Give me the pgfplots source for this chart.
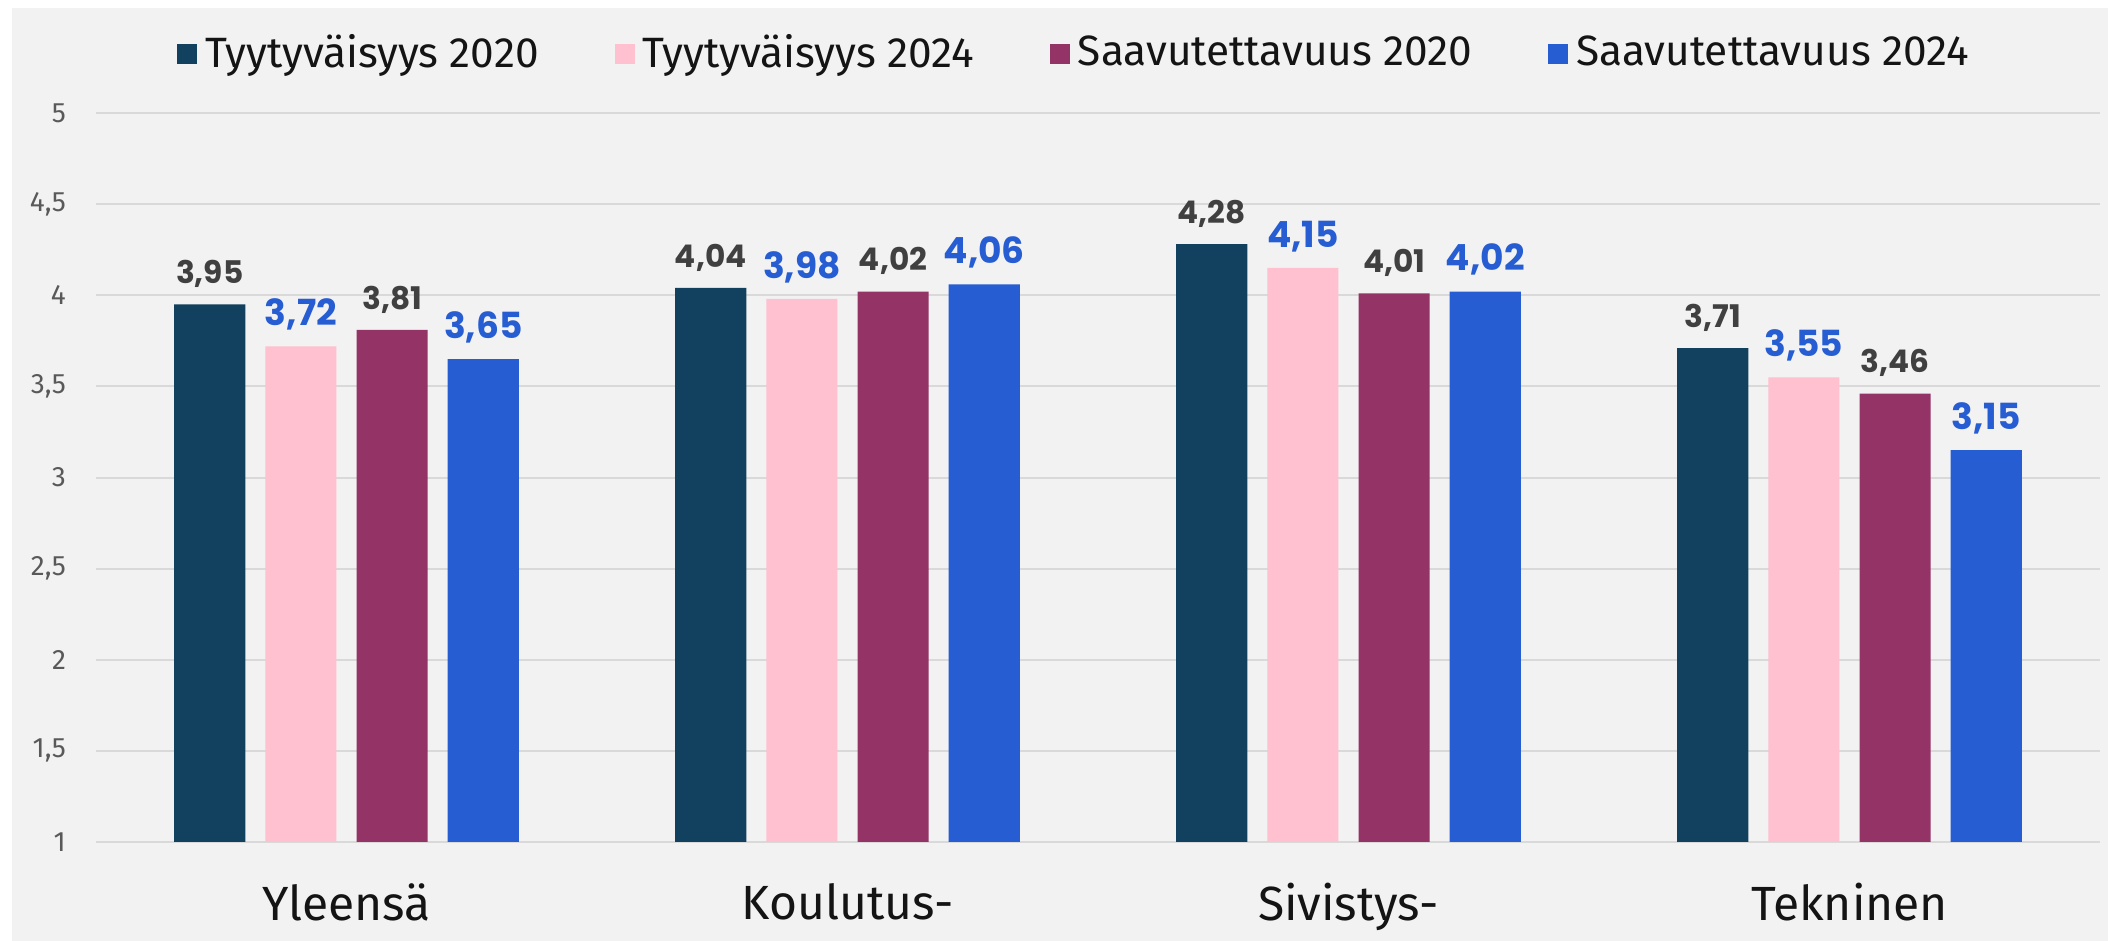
\documentclass[border=0pt]{standalone}
\usepackage{fontspec}
\setmainfont{Fira Sans}
\newfontfamily\labelfont{Poppins}
\usepackage{pgfplots}
\pgfplotsset{compat=1.18}
\definecolor{cNavy}{RGB}{18,64,95}
\definecolor{cPink}{RGB}{255,192,207}
\definecolor{cPlum}{RGB}{147,51,102}
\definecolor{cBlue}{RGB}{38,93,210}
\definecolor{bgc}{RGB}{242,242,242}
\definecolor{gridc}{RGB}{217,217,217}
\definecolor{lblc}{RGB}{64,64,64}
\definecolor{tickc}{RGB}{89,89,89}
\definecolor{txtc}{RGB}{20,20,20}

\begin{document}
\begin{tikzpicture}
\path[use as bounding box] (0pt,0pt) rectangle (527pt,235.25pt);
\fill[bgc] (3pt,0pt) rectangle (527pt,233.25pt);
\begin{axis}[
  at={(24pt,24.75pt)}, anchor=south west,
  scale only axis, width=501pt, height=182.25pt,
  xmin=-0.5, xmax=3.5, ymin=1, ymax=5,
  ytick={1,1.5,2,2.5,3,3.5,4,4.5,5},
  xtick={0,1,2,3},
  xticklabels={Yleensä,Koulutus-,Sivistys-,Tekninen},
  axis line style={draw=none},
  tick style={draw=none},
  ymajorgrids, grid style={gridc, line width=0.5pt},
  /pgf/number format/assume math mode=true,
  yticklabel style={font=\fontsize{7}{8}\selectfont, text=tickc, xshift=-4pt,
     /pgf/number format/use comma},
  xticklabel style={font=\fontsize{12}{14}\selectfont, text=txtc, yshift=-2.5pt},
  ybar, bar width=0.142,
  legend columns=4,
  legend style={at={(0.4895,1)}, anchor=center, yshift=14.75pt, draw=none, fill=none,
     font=\fontsize{10.6}{12}\selectfont, text=txtc,
     /tikz/every even column/.append style={column sep=17pt}},
  legend image code/.code={\fill[#1] (0pt,-2.5pt) rectangle (5pt,2.5pt);},
  nodes near coords={\pgfmathprintnumber[use comma,fixed,fixed zerofill,precision=2]{\pgfplotspointmeta}},
  every node near coord/.append style={anchor=south, inner sep=0pt, text depth=0pt, yshift=5pt},
]
\addplot[fill=cNavy, draw=none, bar shift=-0.273,
  every node near coord/.append style={text=lblc, font=\labelfont\bfseries\fontsize{7.8}{9}\selectfont}]
  coordinates {(0,3.95) (1,4.04) (2,4.28) (3,3.71)};
\addplot[fill=cPink, draw=none, bar shift=-0.091,
  every node near coord/.append style={text=cBlue, font=\labelfont\bfseries\fontsize{9}{10}\selectfont}]
  coordinates {(0,3.72) (1,3.98) (2,4.15) (3,3.55)};
\addplot[fill=cPlum, draw=none, bar shift=0.091,
  every node near coord/.append style={text=lblc, font=\labelfont\bfseries\fontsize{7.8}{9}\selectfont}]
  coordinates {(0,3.81) (1,4.02) (2,4.01) (3,3.46)};
\addplot[fill=cBlue, draw=none, bar shift=0.273,
  every node near coord/.append style={text=cBlue, font=\labelfont\bfseries\fontsize{9}{10}\selectfont}]
  coordinates {(0,3.65) (1,4.06) (2,4.02) (3,3.15)};
\legend{Tyytyväisyys 2020, Tyytyväisyys 2024, Saavutettavuus 2020, Saavutettavuus 2024}
\end{axis}
\end{tikzpicture}
\end{document}
